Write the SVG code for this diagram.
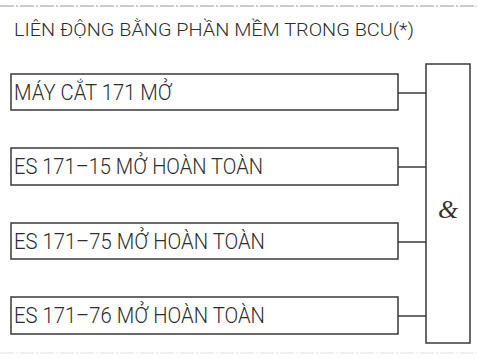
<svg xmlns="http://www.w3.org/2000/svg" width="477" height="358" viewBox="0 0 477 358">
<style>
.box{fill:#fff;stroke:#3a3a3a;stroke-width:1.5}
.lbl{font-family:Roboto,"Liberation Sans",Arial,sans-serif;font-weight:300;font-size:22px;fill:#2e2e2e}
.ttl{font-family:Roboto,"Liberation Sans",Arial,sans-serif;font-weight:300;font-size:19px;fill:#2e2e2e}
.wire{stroke:#3a3a3a;stroke-width:1.5;fill:none}
</style>
<rect width="477" height="358" fill="#fff"/>
<line x1="0" y1="6" x2="477" y2="6" stroke="#999" stroke-width="1" stroke-dasharray="14 2 2 2"/>
<line x1="0" y1="353" x2="477" y2="353" stroke="#ddd" stroke-width="1" stroke-dasharray="14 2 2 2"/>
<text class="ttl" x="14" y="36" textLength="400" lengthAdjust="spacingAndGlyphs">LIÊN ĐỘNG BẰNG PHẦN MỀM TRONG BCU(*)</text>
<g id="connectors">
<line class="wire" x1="398" y1="93" x2="426" y2="93"/>
<line class="wire" x1="398" y1="167" x2="426" y2="167"/>
<line class="wire" x1="398" y1="242" x2="426" y2="242"/>
<line class="wire" x1="398" y1="316" x2="426" y2="316"/>
</g>
<g id="n1">
<rect class="box" x="11" y="74" width="387" height="36"/>
<text class="lbl" x="14" y="100" textLength="158" lengthAdjust="spacingAndGlyphs">MÁY CẮT 171 MỞ</text>
</g>
<g id="n2">
<rect class="box" x="11" y="148" width="387" height="37"/>
<text class="lbl" x="14" y="174" textLength="249" lengthAdjust="spacingAndGlyphs">ES 171–15 MỞ HOÀN TOÀN</text>
</g>
<g id="n3">
<rect class="box" x="11" y="223" width="387" height="36"/>
<text class="lbl" x="14" y="249" textLength="251" lengthAdjust="spacingAndGlyphs">ES 171–75 MỞ HOÀN TOÀN</text>
</g>
<g id="n4">
<rect class="box" x="11" y="297" width="387" height="37"/>
<text class="lbl" x="14" y="323" textLength="251" lengthAdjust="spacingAndGlyphs">ES 171–76 MỞ HOÀN TOÀN</text>
</g>
<g id="and">
<rect class="box" x="426" y="64" width="44" height="279"/>
<text x="448" y="218" text-anchor="middle" font-family="Liberation Serif,serif" font-style="italic" font-size="26" fill="#333">&amp;</text>
</g>
</svg>
